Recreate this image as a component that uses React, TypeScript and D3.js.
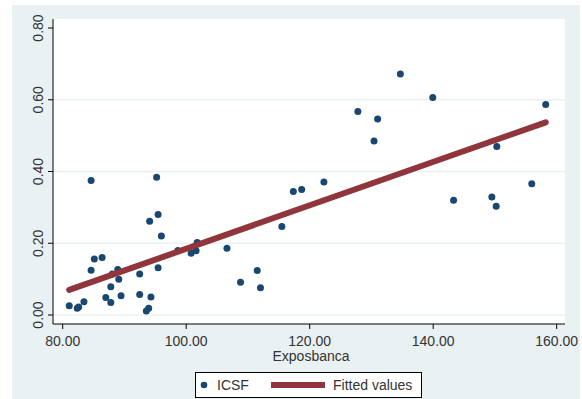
import React from "react";
import * as d3 from "d3";

const icsfX = [81.06, 82.35, 82.58, 83.44, 84.6, 84.6, 85.12, 86.38, 86.98, 87.79, 87.79, 88.03, 88.92, 89.08, 89.45, 92.47, 92.47, 93.54, 93.92, 94.29, 94.08, 95.21, 95.45, 95.98, 95.45, 98.65, 100.8, 101.6, 101.78, 106.6, 108.8, 111.5, 112.03, 115.49, 117.35, 118.7, 122.3, 127.8, 130.42, 131.0, 134.68, 139.93, 143.3, 149.5, 150.2, 150.3, 155.96, 158.22];
const icsfY = [0.026, 0.019, 0.022, 0.037, 0.125, 0.375, 0.156, 0.160, 0.049, 0.079, 0.035, 0.114, 0.127, 0.100, 0.054, 0.114, 0.057, 0.011, 0.019, 0.050, 0.261, 0.384, 0.280, 0.220, 0.132, 0.180, 0.172, 0.179, 0.202, 0.186, 0.091, 0.124, 0.076, 0.247, 0.344, 0.350, 0.371, 0.567, 0.485, 0.546, 0.672, 0.606, 0.320, 0.329, 0.303, 0.470, 0.366, 0.587];
const fittedX = [81.06, 158.22];
const fittedY = [0.07, 0.537];
const xTicks = [80, 100, 120, 140, 160];
const yTicks = [0, 0.2, 0.4, 0.6, 0.8];

const W = 582, H = 399;
const plotL = 53, plotR = 565, plotT = 19, plotB = 324;
const BG = "#eaf1f3";
const TXT = "#333";
const FONT = "Liberation Sans, Arial, sans-serif";

export default function App() {
  const x = d3.scaleLinear().domain([80, 160]).range([62.7, 556.7]);
  const y = d3.scaleLinear().domain([0, 0.8]).range([315, 28]);
  const line = d3.line<number>().x((d, i) => x(fittedX[i])).y((d, i) => y(fittedY[i]));

  return (
    <svg width={W} height={H} style={{ position: "absolute", left: 0, top: 0 }} fontFamily={FONT}>
      <rect x={0} y={0} width={W} height={H} fill="#fff" />
      <rect x={12} y={5} width={568} height={394} fill={BG} />
      <rect x={plotL} y={plotT} width={plotR - plotL} height={plotB - plotT} fill="#fff" />
      {yTicks.slice(0, 4).map((t) => (
        <line key={"g" + t} x1={plotL} x2={plotR} y1={y(t)} y2={y(t)} stroke={BG} strokeWidth={1.3} />
      ))}
      {/* axes */}
      <line x1={plotL} x2={plotL} y1={plotT} y2={plotB} stroke="#000" strokeWidth={1} />
      <line x1={plotL} x2={plotR} y1={plotB} y2={plotB} stroke="#000" strokeWidth={1} />
      {yTicks.map((t) => (
        <g key={"y" + t}>
          <line x1={plotL - 5} x2={plotL} y1={y(t)} y2={y(t)} stroke="#000" />
          <text transform={`translate(43,${y(t)}) rotate(-90)`} textAnchor="middle" fontSize={14} fill={TXT}>
            {t.toFixed(2)}
          </text>
        </g>
      ))}
      {xTicks.map((t) => (
        <g key={"x" + t}>
          <line x1={x(t)} x2={x(t)} y1={plotB} y2={plotB + 5} stroke="#000" />
          <text x={x(t)} y={346} textAnchor="middle" fontSize={14} fill={TXT}>
            {t.toFixed(2)}
          </text>
        </g>
      ))}
      <text x={(plotL + plotR) / 2 + 2} y={361} textAnchor="middle" fontSize={14} fill={TXT}>
        Exposbanca
      </text>
      {/* points */}
      {icsfX.map((v, i) => (
        <circle key={"p" + i} cx={x(v)} cy={y(icsfY[i])} r={3.5} fill="#1a476f" />
      ))}
      <path d={line(fittedX) || ""} stroke="#90353b" strokeWidth={6} fill="none" strokeLinecap="round" />
      {/* legend */}
      <rect x={195.5} y={372.5} width={226} height={25} fill="#fff" stroke="#000" strokeWidth={1} />
      <circle cx={204} cy={385} r={3.3} fill="#1a476f" />
      <text x={217} y={390} fontSize={14} fill={TXT}>ICSF</text>
      <line x1={271} x2={325} y1={385} y2={385} stroke="#90353b" strokeWidth={6} />
      <text x={333} y={390} fontSize={14} fill={TXT}>Fitted values</text>
    </svg>
  );
}
